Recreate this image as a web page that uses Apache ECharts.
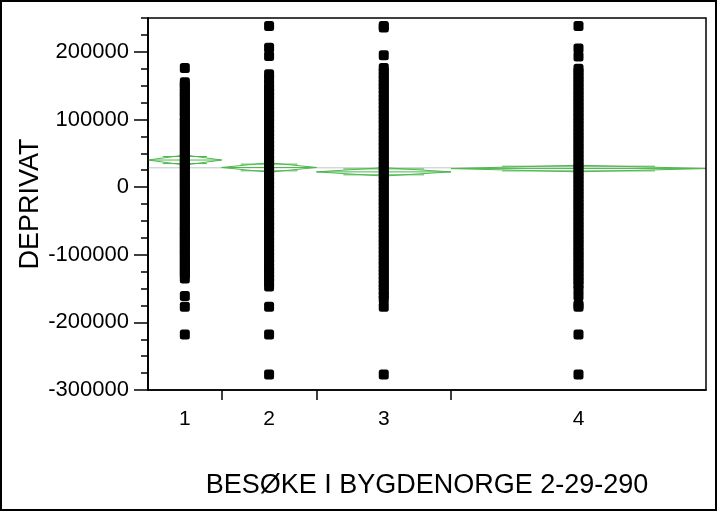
<!DOCTYPE html>
<html>
<head>
<meta charset="utf-8">
<script src="https://cdn.jsdelivr.net/npm/echarts@6/dist/echarts.min.js"></script>
<style>
html,body{margin:0;padding:0;background:#fff;}
#chart{width:717px;height:511px;}
</style>
</head>
<body>
<div id="chart"></div>
<script>
// ---- data ----
const categories = ['1', '2', '3', '4'];
// relative group sizes (JMP draws category widths proportional to counts)
const groupShares = [0.132, 0.170, 0.241, 0.457];
const groupMeans = [40000, 29000, 22500, 27400];
const groupCIHalf = [7400, 7000, 6200, 4900];
const grandMean = 28500;

const group1Values = [176000, 155000, 151000, 147000, 141000, 137000, 132000, 128000, 122000, 119000, 113000, 110000, 104000, 99000, 96000, 90000, 87000, 81000, 78000, 72000, 69000, 63000, 60000, 54000, 51000, 45000, 42000, 36000, 33000, 27000, 24000, 18000, 15000, 9000, 6000, 0, -3000, -9000, -12000, -18000, -21000, -27000, -30000, -36000, -39000, -45000, -48000, -54000, -57000, -63000, -66000, -72000, -75000, -81000, -84000, -90000, -93000, -99000, -102000, -108000, -111000, -117000, -120000, -126000, -129000, -135000, -161000, -177000, -218000];
const group2Values = [238000, 206000, 194000, 167000, 160000, 152000, 146000, 141000, 135000, 130000, 124000, 119000, 113000, 108000, 102000, 97000, 91000, 86000, 80000, 75000, 69000, 64000, 58000, 53000, 47000, 42000, 36000, 31000, 25000, 20000, 14000, 9000, 3000, -2000, -8000, -13000, -19000, -24000, -30000, -35000, -41000, -46000, -52000, -57000, -63000, -68000, -74000, -79000, -85000, -90000, -96000, -101000, -107000, -112000, -118000, -123000, -129000, -134000, -140000, -147000, -177000, -218000, -277000];
const group3Values = [238000, 236000, 195000, 176000, 171000, 165000, 160000, 154000, 149000, 143000, 138000, 132000, 127000, 121000, 116000, 110000, 105000, 99000, 94000, 88000, 83000, 77000, 72000, 66000, 61000, 55000, 50000, 44000, 39000, 33000, 28000, 22000, 17000, 11000, 6000, 0, -5000, -11000, -16000, -22000, -27000, -33000, -38000, -44000, -49000, -55000, -60000, -66000, -71000, -77000, -82000, -88000, -93000, -99000, -104000, -110000, -115000, -121000, -126000, -132000, -137000, -143000, -148000, -154000, -160000, -166000, -177000, -277000];
const group4Values = [238000, 205000, 193000, 175000, 170000, 164000, 159000, 153000, 148000, 142000, 137000, 131000, 126000, 120000, 115000, 109000, 104000, 98000, 93000, 87000, 82000, 76000, 71000, 65000, 60000, 54000, 49000, 43000, 38000, 32000, 27000, 21000, 16000, 10000, 5000, -1000, -6000, -12000, -17000, -23000, -28000, -34000, -39000, -45000, -50000, -56000, -61000, -67000, -72000, -78000, -83000, -89000, -94000, -100000, -105000, -111000, -116000, -122000, -127000, -133000, -138000, -144000, -151000, -161000, -174000, -177000, -218000, -277000];

const yMajorTicks = [-300000, -200000, -100000, 0, 100000, 200000];
const yMinorTicks = [-300000, -275000, -250000, -225000, -200000, -175000, -150000, -125000, -100000, -75000, -50000, -25000, 0, 25000, 50000, 75000, 100000, 125000, 150000, 175000, 200000, 225000, 250000];
const yMin = -300000, yMax = 250000;

// ---- build ----
const groupValues = [group1Values, group2Values, group3Values, group4Values];
const bounds = [0];
groupShares.forEach((s, i) => bounds.push(bounds[i] + s));
bounds[bounds.length - 1] = 1;
const centers = groupShares.map((s, i) => (bounds[i] + bounds[i + 1]) / 2);
const innerBounds = bounds.slice(1, -1);

const GRID = { left: 148, right: 11, top: 18, bottom: 121 };
const W = 717, H = 511;

const GREEN = '#4fb84f';
const series = [];
series.push({
  type: 'line', data: [[0, grandMean], [1, grandMean]], symbol: 'none', silent: true,
  lineStyle: { color: '#c4c4c4', width: 1 }, z: 1, animation: false
});
groupMeans.forEach((m, i) => {
  const x0 = bounds[i], x1 = bounds[i + 1], xc = centers[i], h = groupCIHalf[i];
  const w = x1 - x0;
  const o = h / Math.SQRT2;
  const lineBase = { type: 'line', symbol: 'none', silent: true, z: 2, animation: false,
    lineStyle: { color: GREEN, width: 1 } };
  series.push(Object.assign({}, lineBase, { data: [[x0, m], [xc, m + h], [x1, m], [xc, m - h], [x0, m]] }));
  series.push(Object.assign({}, lineBase, { data: [[x0, m], [x1, m]] }));
  series.push(Object.assign({}, lineBase, { data: [[x0 + 0.2 * w, m + o], [x1 - 0.2 * w, m + o]] }));
  series.push(Object.assign({}, lineBase, { data: [[x0 + 0.2 * w, m - o], [x1 - 0.2 * w, m - o]] }));
});
groupValues.forEach((vals, i) => {
  series.push({
    type: 'scatter', symbol: 'roundRect', symbolSize: 10, z: 5, animation: false,
    itemStyle: { color: '#000', opacity: 1 },
    emphasis: { disabled: true },
    data: vals.map(v => [centers[i], v])
  });
});

const FONT = '"Liberation Sans", Arial, sans-serif';
const chart = echarts.init(document.getElementById('chart'), null, { renderer: 'canvas' });
chart.setOption({
  animation: false,
  backgroundColor: '#fff',
  grid: GRID,
  graphic: {
    elements: [{
      type: 'rect', id: 'outerFrame', x: 0, y: 0, z: 100, silent: true,
      shape: { x: 1, y: 1, width: W - 2, height: H - 2 },
      style: { fill: null, stroke: '#000', lineWidth: 2 }
    }, {
      type: 'rect', id: 'plotFrame', x: GRID.left, y: GRID.top, z: 100, silent: true,
      shape: { x: 0, y: 0, width: W - GRID.left - GRID.right, height: H - GRID.top - GRID.bottom },
      style: { fill: null, stroke: '#000', lineWidth: 1.5 }
    }]
  },
  xAxis: {
    type: 'value', min: 0, max: 1, position: 'bottom',
    name: 'BESØKE I BYGDENORGE 2-29-290', nameLocation: 'middle', nameGap: 82, nameMoveOverlap: false,
    nameTextStyle: { fontFamily: FONT, fontSize: 27, color: '#000' },
    axisLine: { show: true, onZero: false, lineStyle: { color: '#000', width: 1.5 } },
    axisTick: { show: true, customValues: innerBounds, length: 10, lineStyle: { color: '#000', width: 1.5 } },
    axisLabel: {
      customValues: centers, margin: 19, fontFamily: FONT, fontSize: 21, color: '#000',
      formatter: v => {
        let best = 0;
        centers.forEach((c, i) => { if (Math.abs(c - v) < Math.abs(centers[best] - v)) best = i; });
        return categories[best];
      }
    },
    splitLine: { show: false }
  },
  yAxis: [{
    type: 'value', min: yMin, max: yMax, position: 'left',
    name: 'DEPRIVAT', nameLocation: 'middle', nameGap: 104, nameMoveOverlap: false,
    nameTextStyle: { fontFamily: FONT, fontSize: 27, color: '#000' },
    axisLine: { show: true, onZero: false, lineStyle: { color: '#000', width: 1.5 } },
    axisTick: { show: true, customValues: yMajorTicks, length: 14, lineStyle: { color: '#000', width: 1.5 } },
    axisLabel: { customValues: yMajorTicks, margin: 19, fontFamily: FONT, fontSize: 22, color: '#000',
      formatter: v => String(v) },
    splitLine: { show: false }
  }, {
    type: 'value', min: yMin, max: yMax, position: 'left', offset: 0,
    axisLine: { show: true, onZero: false, lineStyle: { color: '#000', width: 1.5 } },
    axisTick: { show: true, customValues: yMinorTicks, length: 7, lineStyle: { color: '#000', width: 1.5 } },
    axisLabel: { show: false },
    splitLine: { show: false }
  }],
  series: series
});
</script>
</body>
</html>
